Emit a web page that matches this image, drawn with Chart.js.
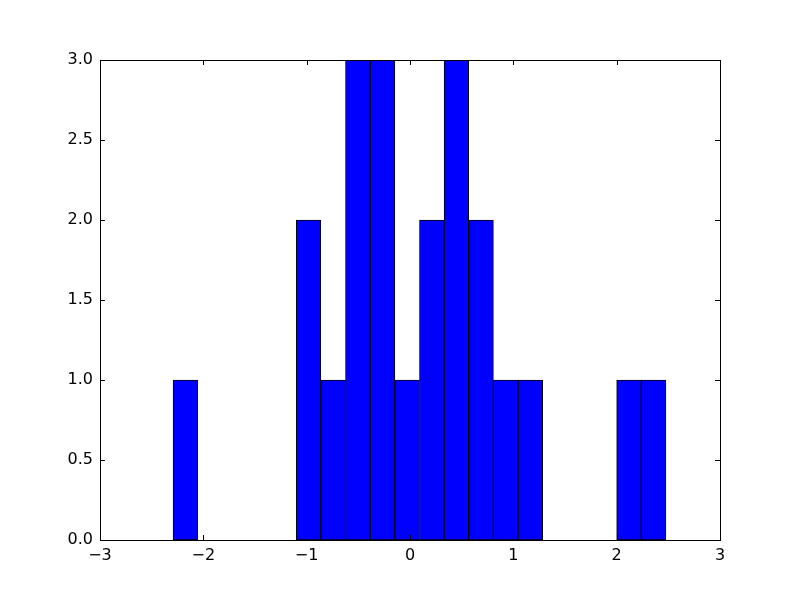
<!DOCTYPE html>
<html>
<head>
<meta charset="utf-8">
<script src="https://cdn.jsdelivr.net/npm/chart.js@4/dist/chart.umd.min.js"></script>
<style>
  html, body { margin: 0; padding: 0; background: #fff; }
  canvas { display: block; }
</style>
</head>
<body>
<canvas id="hist" width="800" height="600"></canvas>
<script>
"use strict";

// bin centres (20 bins, ~0.2385 wide)
var binCenters = [-2.174, -1.936, -1.697, -1.459, -1.220, -0.982, -0.743, -0.505, -0.266, -0.028,
                   0.211,  0.449,  0.688,  0.926,  1.165,  1.403,  1.642,  1.880,  2.119,  2.357];
var binCounts  = [1, 0, 0, 0, 0, 2, 1, 3, 3, 1, 2, 3, 2, 1, 1, 0, 0, 0, 1, 1];

var xTicks = [-3, -2, -1, 0, 1, 2, 3];
var yTicks = [0, 0.5, 1, 1.5, 2, 2.5, 3];

var points = binCenters.map(function (c, i) { return { x: c, y: binCounts[i] }; });

// frame + inward tick marks on all four sides, like matplotlib classic
var frameTicks = {
  id: 'frameTicks',
  afterDraw: function (chart) {
    var ctx = chart.ctx, a = chart.chartArea;
    var sx = chart.scales.x, sy = chart.scales.y;
    var len = 5;
    ctx.save();
    ctx.strokeStyle = '#000';
    ctx.lineWidth = 1;
    ctx.beginPath();
    xTicks.forEach(function (v) {
      var px = Math.round(sx.getPixelForValue(v)) + 0.5;
      ctx.moveTo(px, a.bottom); ctx.lineTo(px, a.bottom - len);
      ctx.moveTo(px, a.top);    ctx.lineTo(px, a.top + len);
    });
    yTicks.forEach(function (v) {
      var py = Math.round(sy.getPixelForValue(v)) + 0.5;
      ctx.moveTo(a.left, py);  ctx.lineTo(a.left + len, py);
      ctx.moveTo(a.right, py); ctx.lineTo(a.right - len, py);
    });
    ctx.stroke();
    ctx.strokeRect(Math.round(a.left) + 0.5, Math.round(a.top) + 0.5,
                   Math.round(a.right - a.left), Math.round(a.bottom - a.top));
    ctx.restore();
  }
};

var tickFont = { family: "'DejaVu Sans'", size: 16 };

new Chart(document.getElementById('hist'), {
  type: 'bar',
  data: {
    datasets: [{
      data: points,
      backgroundColor: '#0000ff',
      borderColor: '#000000',
      borderWidth: 1,
      borderSkipped: false,
      barPercentage: 1,
      categoryPercentage: 1
    }]
  },
  options: {
    responsive: false,
    animation: false,
    layout: { padding: { left: 0, top: 60, right: 80, bottom: 0 } },
    plugins: { legend: { display: false }, tooltip: { enabled: false } },
    scales: {
      x: {
        type: 'linear',
        min: -3, max: 3,
        offset: false,
        grid: { display: false, drawTicks: false },
        border: { display: false },
        afterFit: function (s) { s.height = 60; },
        afterBuildTicks: function (s) { s.ticks = xTicks.map(function (v) { return { value: v }; }); },
        ticks: {
          color: '#000',
          font: tickFont,
          padding: 6,
          maxRotation: 0,
          callback: function (v) { return String(v).replace('-', '\u2212'); }
        }
      },
      y: {
        min: 0, max: 3,
        grid: { display: false, drawTicks: false },
        border: { display: false },
        afterFit: function (s) { s.width = 100; },
        afterBuildTicks: function (s) { s.ticks = yTicks.map(function (v) { return { value: v }; }); },
        ticks: {
          color: '#000',
          font: tickFont,
          padding: 7,
          callback: function (v) { return v.toFixed(1); }
        }
      }
    }
  },
  plugins: [frameTicks]
});
</script>
</body>
</html>
